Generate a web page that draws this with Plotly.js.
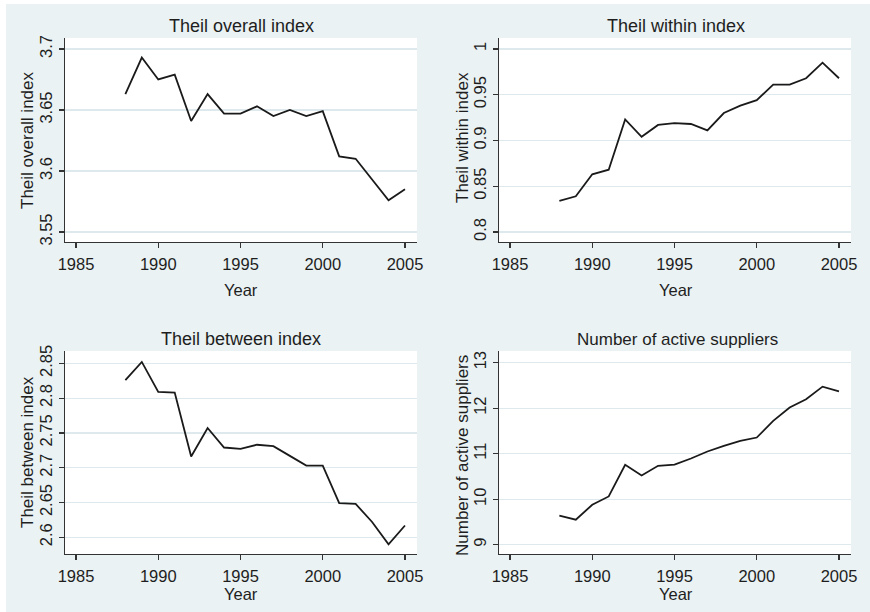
<!DOCTYPE html>
<html>
<head>
<meta charset="utf-8">
<script src="https://cdn.plot.ly/plotly-3.0.1.min.js"></script>
<style>
  html, body { margin: 0; padding: 0; background: #ffffff; }
  #chart { position: absolute; left: 6px; top: 4px; width: 864px; height: 608px; }
</style>
</head>
<body>
<div id="chart"></div>
<script>
// ---- data ----
const years = [1988, 1989, 1990, 1991, 1992, 1993, 1994, 1995, 1996, 1997, 1998, 1999, 2000, 2001, 2002, 2003, 2004, 2005];
const theilOverall = [3.663, 3.693, 3.675, 3.679, 3.641, 3.663, 3.647, 3.647, 3.653, 3.645, 3.650, 3.645, 3.649, 3.612, 3.610, 3.593, 3.576, 3.585];
const theilWithin = [0.834, 0.839, 0.863, 0.868, 0.923, 0.904, 0.917, 0.919, 0.918, 0.911, 0.930, 0.938, 0.944, 0.961, 0.961, 0.968, 0.985, 0.968];
const theilBetween = [2.826, 2.852, 2.809, 2.808, 2.716, 2.757, 2.729, 2.727, 2.733, 2.731, 2.717, 2.703, 2.703, 2.649, 2.648, 2.622, 2.590, 2.617];
const suppliers = [9.636, 9.548, 9.878, 10.06, 10.755, 10.521, 10.733, 10.76, 10.894, 11.048, 11.172, 11.282, 11.355, 11.72, 12.013, 12.196, 12.473, 12.371];

const xTicks = [1985, 1990, 1995, 2000, 2005];
const overallTicks = [3.55, 3.6, 3.65, 3.7];
const overallLabels = ["3.55", "3.6", "3.65", "3.7"];
const withinTicks = [0.8, 0.85, 0.9, 0.95, 1];
const withinLabels = ["0.8", "0.85", "0.9", "0.95", "1"];
const betweenTicks = [2.6, 2.65, 2.7, 2.75, 2.8, 2.85];
const betweenLabels = ["2.6", "2.65", "2.7", "2.75", "2.8", "2.85"];
const supplierTicks = [9, 10, 11, 12, 13];
const supplierLabels = ["9", "10", "11", "12", "13"];

const panelTitles = ["Theil overall index", "Theil within index", "Theil between index", "Number of active suppliers"];
const yTitles = ["Theil overall index", "Theil within index", "Theil between index", "Number of active suppliers"];
const xTitle = "Year";

// ---- styling ----
const FONT = "Liberation Sans, Arial, Helvetica, sans-serif";
const TXT = "#1e1e1e";
const BG = "#eaf2f3";
const GRID = "#dde9ec";
const LINE = "#1a1a1a";

const W = 864, H = 608; // div size (page offset 6,4)
const px = v => (v - 6) / W;          // page x -> paper x
const py = v => 1 - (v - 4) / H;      // page y -> paper y

const colsX = [[65, 417], [499, 851]];
const rowsY = [[38, 242], [351, 554]];

function xax(col, anchor) {
  return {
    domain: [px(colsX[col][0]), px(colsX[col][1])],
    anchor: anchor,
    range: [1984.33, 2005.73],
    tickvals: xTicks,
    ticktext: xTicks.map(String),
    ticks: "outside", ticklen: 5, tickwidth: 1.2, tickcolor: "#333",
    showline: true, linecolor: "#333", linewidth: 1.4,
    showgrid: false, zeroline: false,
    tickfont: {family: FONT, size: 16.5, color: TXT},
    ticklabelstandoff: 2,
    fixedrange: true
  };
}
function yax(row, anchor, range, vals, labels) {
  return {
    domain: [py(rowsY[row][1]), py(rowsY[row][0])],
    anchor: anchor,
    range: range,
    tickvals: vals,
    ticktext: labels,
    tickangle: -90,
    ticks: "outside", ticklen: 5, tickwidth: 1.2, tickcolor: "#333",
    showline: true, linecolor: "#333", linewidth: 1.4,
    showgrid: true, gridcolor: GRID, gridwidth: 1.2,
    zeroline: false,
    tickfont: {family: FONT, size: 16.5, color: TXT},
    fixedrange: true
  };
}

const series = [theilOverall, theilWithin, theilBetween, suppliers];
const traces = series.map((s, i) => ({
  x: years, y: s,
  type: "scatter", mode: "lines",
  line: {color: LINE, width: 1.8},
  xaxis: i === 0 ? "x" : "x" + (i + 1),
  yaxis: i === 0 ? "y" : "y" + (i + 1),
  showlegend: false, hoverinfo: "x+y"
}));

const annotations = [];
const titlePos = [[241, 26, 18], [676, 26, 18], [241, 339, 18], [677, 339, 17]];
panelTitles.forEach((t, i) => {
  annotations.push({
    text: t, xref: "paper", yref: "paper",
    x: px(titlePos[i][0]), y: py(titlePos[i][1]),
    xanchor: "center", yanchor: "middle", showarrow: false,
    font: {family: FONT, size: titlePos[i][2], color: TXT}
  });
});
const yTitlePos = [[27, 140], [462, 138], [27, 452], [462, 456]];
yTitles.forEach((t, i) => {
  annotations.push({
    text: t, xref: "paper", yref: "paper",
    x: px(yTitlePos[i][0]), y: py(yTitlePos[i][1]),
    xanchor: "center", yanchor: "middle", showarrow: false, textangle: -90,
    font: {family: FONT, size: 17, color: TXT}
  });
});
const xTitlePos = [[241, 290], [676, 290], [241, 594], [676, 594]];
xTitlePos.forEach(p => {
  annotations.push({
    text: xTitle, xref: "paper", yref: "paper",
    x: px(p[0]), y: py(p[1]),
    xanchor: "center", yanchor: "middle", showarrow: false,
    font: {family: FONT, size: 16.5, color: TXT}
  });
});

const layout = {
  width: W, height: H,
  margin: {l: 0, r: 0, t: 0, b: 0},
  paper_bgcolor: BG,
  plot_bgcolor: "#ffffff",
  font: {family: FONT, color: TXT},
  showlegend: false,
  xaxis: xax(0, "y"),
  yaxis: yax(0, "x", [3.5418, 3.709], overallTicks, overallLabels),
  xaxis2: xax(1, "y2"),
  yaxis2: yax(0, "x2", [0.789, 1.012], withinTicks, withinLabels),
  xaxis3: xax(0, "y3"),
  yaxis3: yax(1, "x3", [2.576, 2.8677], betweenTicks, betweenLabels),
  xaxis4: xax(1, "y4"),
  yaxis4: yax(1, "x4", [8.795, 13.256], supplierTicks, supplierLabels),
  annotations: annotations
};

Plotly.newPlot("chart", traces, layout, {displayModeBar: false, staticPlot: true});
</script>
</body>
</html>
